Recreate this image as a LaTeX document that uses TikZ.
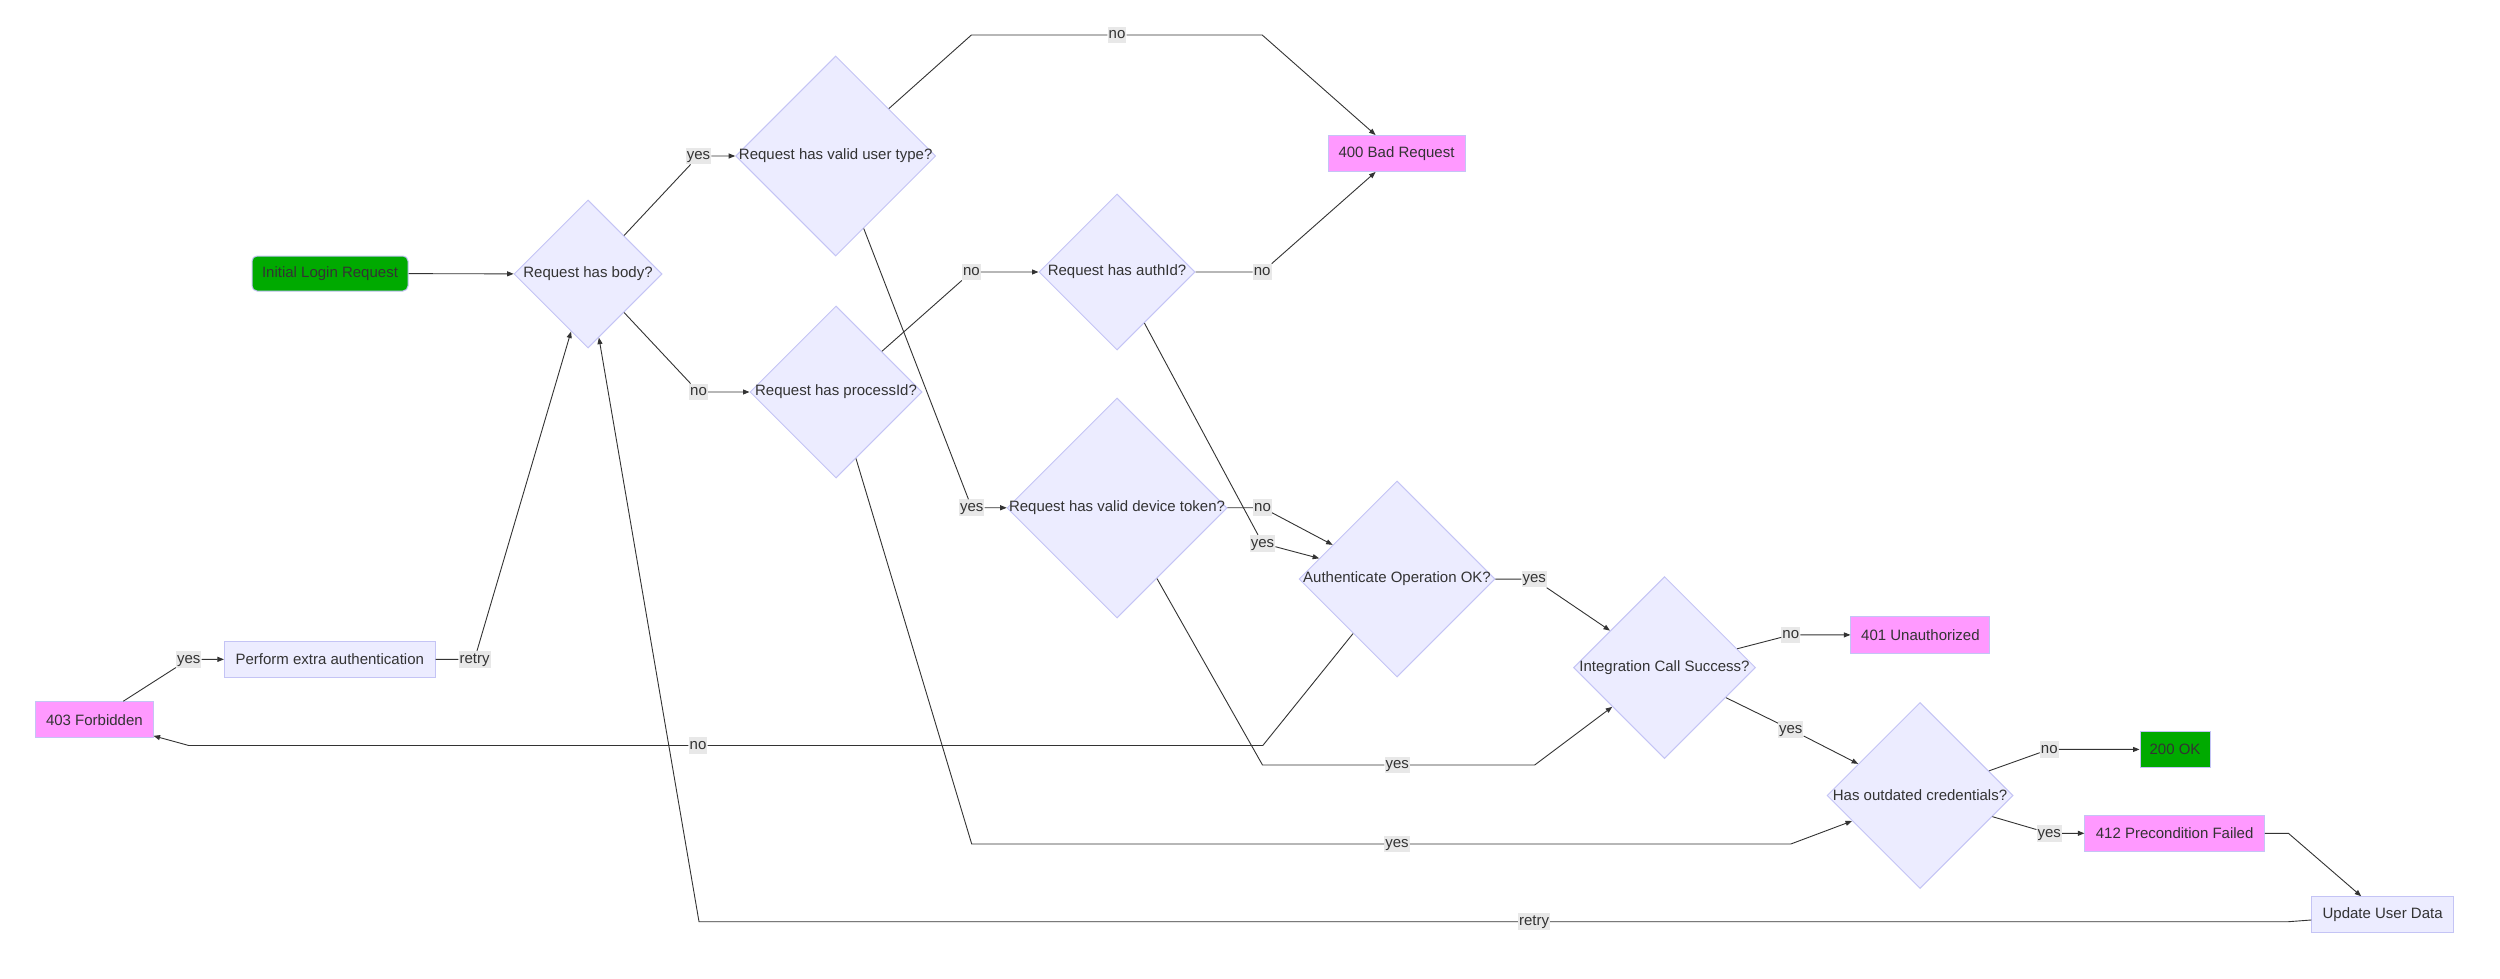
\documentclass[tikz,border=0pt]{standalone}
\usepackage{fontspec}
\setmainfont{Liberation Sans}
\usetikzlibrary{shapes.geometric,arrows.meta}
\definecolor{txt}{HTML}{333333}
\definecolor{nodefill}{HTML}{ECECFF}
\definecolor{nodestroke}{HTML}{C4C4F5}
\definecolor{okgreen}{HTML}{00AA00}
\definecolor{errpink}{HTML}{FF99FF}
\definecolor{lblbg}{HTML}{E8E8E8}
\definecolor{edgecol}{HTML}{333333}
\newcommand{\dtxt}[1]{\makebox[0pt][c]{#1}}
\begin{document}
\begin{tikzpicture}[x=1pt,y=-1pt,
  every node/.style={font=\fontsize{15}{18}\selectfont, text=txt},
  decbox/.style={diamond, aspect=1, draw=nodestroke, fill=nodefill, line width=1pt,
    inner sep=0pt, minimum width=#1, minimum height=#1},
  rbox/.style={rectangle, draw=nodestroke, line width=1pt, inner sep=0pt,
    minimum width=#1, minimum height=36pt},
  plainbox/.style={rbox=#1, fill=nodefill},
  pinkbox/.style={rbox=#1, fill=errpink},
  greenbox/.style={rbox=#1, fill=okgreen},
  lbl/.style={fill=lblbg, inner xsep=1pt, inner ysep=1pt, text height=11pt, text depth=3.5pt},
  conn/.style={draw=edgecol, line width=0.9pt, -{Triangle[length=6.5pt,width=5pt]}}
]
\fill[white] (0,0) rectangle (2500,979);
\useasboundingbox (0,0) rectangle (2500,979);

% nodes
\node[greenbox=156pt, minimum height=35pt, rounded corners=5pt] (init) at (330,273.5) {Initial Login Request};
\node[decbox=148pt] (body) at (588,274) {\dtxt{Request has body?}};
\node[decbox=200pt] (ut) at (835.7,156) {\dtxt{Request has valid user type?}};
\node[decbox=172pt] (pid) at (836,392) {\dtxt{Request has processId?}};
\node[decbox=156pt] (aid) at (1117,272) {\dtxt{Request has authId?}};
\node[pinkbox=137pt] (bad) at (1396.5,153.5) {400 Bad Request};
\node[decbox=220pt] (dev) at (1117,508) {\dtxt{Request has valid device token?}};
\node[decbox=196pt] (aop) at (1397,579) {\dtxt{Authenticate Operation OK?}};
\node[decbox=182pt] (integ) at (1664.5,667.6) {\dtxt{Integration Call Success?}};
\node[decbox=186pt] (outd) at (1920,795.5) {\dtxt{Has outdated credentials?}};
\node[pinkbox=139pt, minimum height=37pt] (unauth) at (1920.4,634.9) {401 Unauthorized};
\node[greenbox=70pt] (ok) at (2175,749.5) {200 OK};
\node[pinkbox=179.5pt] (pre) at (2174.6,833.3) {412 Precondition Failed};
\node[plainbox=141.6pt] (upd) at (2382.6,914.7) {Update User Data};
\node[plainbox=210.7pt] (extra) at (329.8,659.5) {Perform extra authentication};
\node[pinkbox=117.3pt] (forb) at (94.4,719.7) {403 Forbidden};

% labels
\node[lbl] (lb1) at (698.5,156) {yes};
\node[lbl] (lb2) at (698.5,392) {no};
\node[lbl] (lu1) at (1117,35) {no};
\node[lbl] (lu2) at (971.7,507.7) {yes};
\node[lbl] (lp1) at (971.4,272) {no};
\node[lbl] (lp2) at (1397,844) {yes};
\node[lbl] (la1) at (1262.2,272) {no};
\node[lbl] (la2) at (1262.5,543.3) {yes};
\node[lbl] (ld1) at (1262.5,507.7) {no};
\node[lbl] (ld2) at (1397.3,765) {yes};
\node[lbl] (lo1) at (1534.2,579.2) {yes};
\node[lbl] (lo2) at (698,745.5) {no};
\node[lbl] (li1) at (1790.8,634.9) {no};
\node[lbl] (li2) at (1790.8,729.4) {yes};
\node[lbl] (lc1) at (2049.3,749.3) {no};
\node[lbl] (lc2) at (2049.3,833.3) {yes};
\node[lbl] (lr1) at (1534,921.7) {retry};
\node[lbl] (lf1) at (188.8,659.3) {yes};
\node[lbl] (lr2) at (474.5,659.3) {retry};

% bend points
\coordinate (cu1) at (971.4,35);
\coordinate (cu2) at (1262.2,35);
\coordinate (cp1) at (971.7,844);
\coordinate (cp2) at (1790.8,844);
\coordinate (cd1) at (1262.5,765);
\coordinate (cd2) at (1534.7,765);
\coordinate (co1) at (1262.8,745.5);
\coordinate (co2) at (188.8,745.5);
\coordinate (cf) at (2288.4,833.3);
\coordinate (cu3) at (2288.4,921.7);
\coordinate (cu4) at (699,921.7);

% connectors
\draw[conn] (init) -- (body);
\draw[conn] (body) -- (lb1) -- (ut);
\draw[conn] (body) -- (lb2) -- (pid);
\draw[conn] (ut) -- (cu1) -- (lu1) -- (cu2) -- (bad);
\draw[conn] (ut) -- (lu2) -- (dev);
\draw[conn] (pid) -- (lp1) -- (aid);
\draw[conn] (pid) -- (cp1) -- (lp2) -- (cp2) -- (outd);
\draw[conn] (aid) -- (la1) -- (bad);
\draw[conn] (aid) -- (la2) -- (aop);
\draw[conn] (dev) -- (ld1) -- (aop);
\draw[conn] (dev) -- (cd1) -- (ld2) -- (cd2) -- (integ);
\draw[conn] (aop) -- (lo1) -- (integ);
\draw[conn] (aop) -- (co1) -- (lo2) -- (co2) -- (forb);
\draw[conn] (integ) -- (li1) -- (unauth);
\draw[conn] (integ) -- (li2) -- (outd);
\draw[conn] (outd) -- (lc1) -- (ok);
\draw[conn] (outd) -- (lc2) -- (pre);
\draw[conn] (pre) -- (cf) -- (upd);
\draw[conn] (upd) -- (cu3) -- (lr1) -- (cu4) -- (body);
\draw[conn] (forb) -- (lf1) -- (extra);
\draw[conn] (extra) -- (lr2) -- (body);
\end{tikzpicture}
\end{document}
